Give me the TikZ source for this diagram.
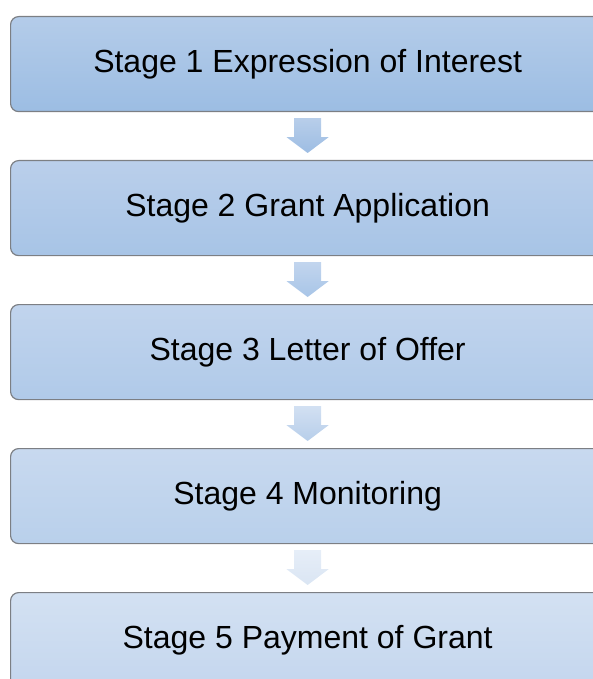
\documentclass[tikz,border=0pt]{standalone}
\usepackage{fontspec}
\setmainfont{Liberation Sans}
\definecolor{bAt}{HTML}{B4CCE9}\definecolor{bAb}{HTML}{9CBDE3}
\definecolor{bBt}{HTML}{BACFEB}\definecolor{bBb}{HTML}{A7C4E6}
\definecolor{bCt}{HTML}{C1D4ED}\definecolor{bCb}{HTML}{B0CAE9}
\definecolor{bDt}{HTML}{C8D9EF}\definecolor{bDb}{HTML}{B9D0EB}
\definecolor{bEt}{HTML}{D3E1F2}\definecolor{bEb}{HTML}{C4D6EE}
\definecolor{aAt}{HTML}{B8CEEA}\definecolor{aAb}{HTML}{9DBDE3}
\definecolor{aBt}{HTML}{C2D5EE}\definecolor{aBb}{HTML}{A8C5E7}
\definecolor{aCt}{HTML}{D2E0F2}\definecolor{aCb}{HTML}{B7CEEA}
\definecolor{aDt}{HTML}{E6EEF8}\definecolor{aDb}{HTML}{DAE5F3}
\definecolor{edge}{HTML}{7C7F84}
\begin{document}
\begin{tikzpicture}[x=1pt,y=-1pt,
  stagebox/.style={draw=edge,line width=1.2pt,rounded corners=8pt,minimum width=594pt,minimum height=95pt,inner sep=0pt,font=\fontsize{32}{38}\selectfont,anchor=north west},
  downarrow/.style={line width=0pt}]
\useasboundingbox (0,0) rectangle (593,679);
\begin{scope}
\clip (0,0) rectangle (593,679);
\node[stagebox,top color=bAt,bottom color=bAb] (s1) at (10,16) {Stage 1 Expression of Interest};
\node[stagebox,top color=bBt,bottom color=bBb] (s2) at (10,160) {Stage 2 Grant Application};
\node[stagebox,top color=bCt,bottom color=bCb] (s3) at (10,304) {Stage 3 Letter of Offer};
\node[stagebox,top color=bDt,bottom color=bDb] (s4) at (10,448) {Stage 4 Monitoring};
\node[stagebox,top color=bEt,bottom color=bEb] (s5) at (10,592) {Stage 5 Payment of Grant};
\foreach \a/\b/\ct/\cb in {s1/s2/aAt/aAb, s2/s3/aBt/aBb, s3/s4/aCt/aCb, s4/s5/aDt/aDb}{
  \path[top color=\ct,bottom color=\cb]
    ([xshift=-13.5pt,yshift=-6pt]\a.south) -- ([xshift=13.5pt,yshift=-6pt]\a.south)
    -- ([xshift=13.5pt,yshift=-25pt]\a.south) -- ([xshift=21pt,yshift=-25pt]\a.south)
    -- ([yshift=7pt]\b.north)
    -- ([xshift=-21pt,yshift=-25pt]\a.south) -- ([xshift=-13.5pt,yshift=-25pt]\a.south) -- cycle;
}
\end{scope}
\end{tikzpicture}
\end{document}
